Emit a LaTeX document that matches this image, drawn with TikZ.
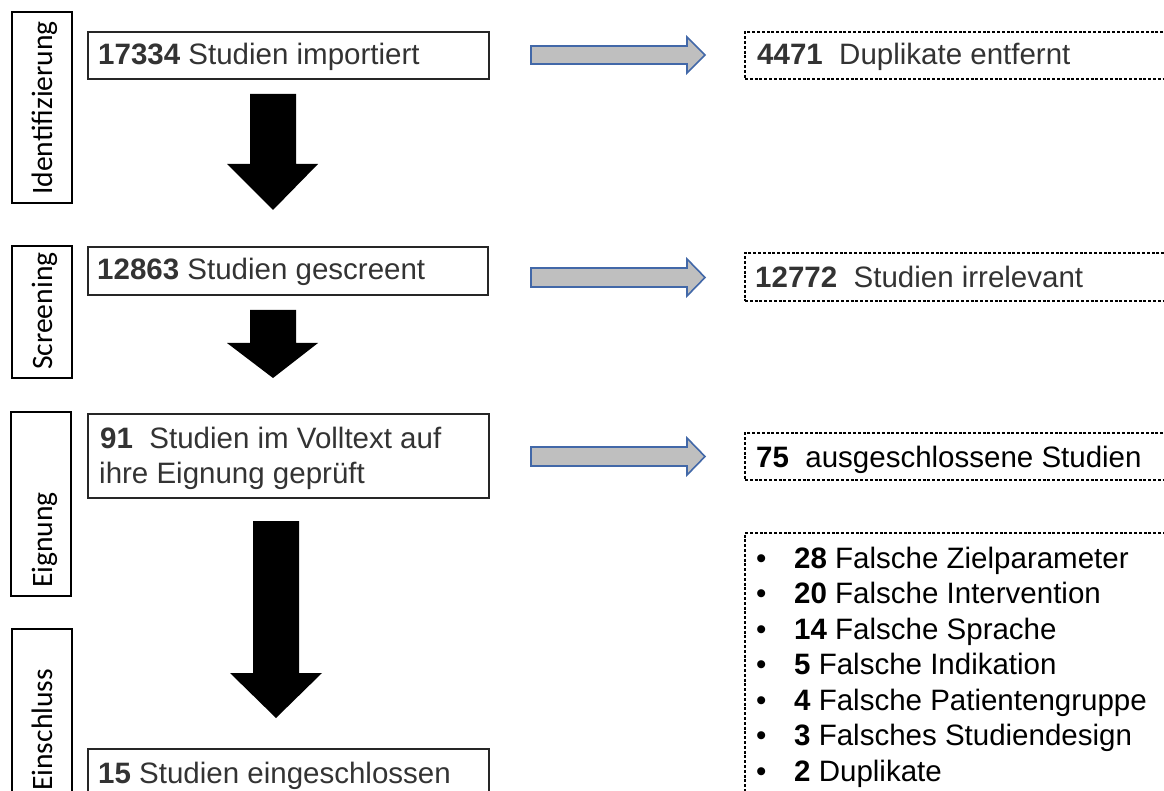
\documentclass[tikz,border=0pt]{standalone}
\usepackage{fontspec}
\setmainfont{Liberation Sans}
\newfontfamily\lblfont{Carlito}
\usetikzlibrary{calc}
\definecolor{txtgray}{HTML}{333333}
\definecolor{arrfill}{HTML}{BFBFBF}
\definecolor{arrline}{HTML}{4268A8}
\begin{document}
\begin{tikzpicture}[x=1pt,y=-1pt,
  mainbox/.style={draw=black!85, line width=1.2pt, anchor=north west, inner sep=0pt, outer sep=0pt},
  lblbox/.style={draw=black, line width=1.4pt, anchor=north west, inner sep=0pt, outer sep=0pt},
  dashbox/.style={draw=black, line width=1.2pt, dash pattern=on 3pt off 1.8pt, anchor=north west, inner sep=0pt, outer sep=0pt},
  txt/.style={anchor=base west, inner sep=0pt, font=\fontsize{29.5}{35.5}\selectfont, text=txtgray},
  blacktxt/.style={txt, text=black},
  lbl/.style={rotate=90, anchor=base west, inner sep=0pt, font=\lblfont\fontsize{29.6}{35}\selectfont},
  blockarrow/.style={fill=black},
  grayarrow/.style={fill=arrfill, draw=arrline, line width=1.6pt, line join=miter}]
\useasboundingbox (0,0) rectangle (1164,791);
\clip (0,0) rectangle (1164,791);

% phase labels
\node[lblbox, minimum width=60pt, minimum height=191pt] (L1) at (12,12) {};
\node[lblbox, minimum width=60pt, minimum height=132pt] (L2) at (12,246) {};
\node[lblbox, minimum width=60pt, minimum height=184pt] (L3) at (11,412) {};
\node[lblbox, minimum width=60pt, minimum height=172pt] (L4) at (12,629) {};
\node[lbl] (l1t) at (52,195) {Identifizierung};
\node[lbl] (l2t) at (52,370) {Screening};
\node[lbl] (l3t) at (52,588) {Eignung};
\node[lbl] (l4t) at (52,791) {Einschluss};

% main boxes
\node[mainbox, minimum width=401pt, minimum height=47pt] (b1) at (88,32) {};
\node[mainbox, minimum width=400pt, minimum height=48pt] (b2) at (88,247) {};
\node[mainbox, minimum width=401pt, minimum height=84pt] (b3) at (88,414) {};
\node[mainbox, minimum width=401pt, minimum height=60pt] (b4) at (88,749) {};
\node[txt] (t1) at (98,65) {\textbf{17334} Studien importiert};
\node[txt] (t2) at (97,280) {\textbf{12863} Studien gescreent};
\node[txt] (t3a) at (100,448) {\textbf{91}\ \ Studien im Volltext auf};
\node[txt] (t3b) at (99,483) {ihre Eignung geprüft};
\node[txt] (t4) at (98,783) {\textbf{15} Studien eingeschlossen};

% black block arrows
\fill[blockarrow] (250,94) -- (296,94) -- (296,164) -- (318,164) -- (273,210) -- (227,164) -- (250,164) -- cycle;
\fill[blockarrow] (250,310) -- (296,310) -- (296,343) -- (318,343) -- (273,378) -- (227,343) -- (250,343) -- cycle;
\fill[blockarrow] (253,521) -- (299,521) -- (299,673) -- (322,673) -- (276,718) -- (230,673) -- (253,673) -- cycle;

% gray arrows
\filldraw[grayarrow] (531,46) -- (687,46) -- (687,37) -- (705,55) -- (687,73) -- (687,64) -- (531,64) -- cycle;
\filldraw[grayarrow] (531,268) -- (687,268) -- (687,259) -- (705,277.5) -- (687,296) -- (687,287) -- (531,287) -- cycle;
\filldraw[grayarrow] (531,447) -- (687,447) -- (687,438) -- (705,456.5) -- (687,475) -- (687,466) -- (531,466) -- cycle;

% dashed boxes
\node[dashbox, minimum width=440pt, minimum height=47pt] (d1) at (745,32) {};
\node[dashbox, minimum width=440pt, minimum height=48pt] (d2) at (745,253) {};
\node[dashbox, minimum width=440pt, minimum height=47pt] (d3) at (745,433) {};
\node[dashbox, minimum width=440pt, minimum height=280pt] (d4) at (745,533) {};
\node[txt] (r1) at (757,65) {\textbf{4471}\ \ Duplikate entfernt};
\node[txt] (r2) at (755,288) {\textbf{12772}\ \ Studien irrelevant};
\node[blacktxt] (r3) at (756,467) {\textbf{75}\ \ ausgeschlossene Studien};

\foreach \i/\n/\t in {0/28/Falsche Zielparameter, 1/20/Falsche Intervention, 2/14/Falsche Sprache, 3/5/Falsche Indikation, 4/4/Falsche Patientengruppe, 5/3/Falsches Studiendesign, 6/2/Duplikate}
  \node[blacktxt] (li\i) at (756,568+35.5*\i) {\makebox[38pt][l]{•}\textbf{\n} \t};
\end{tikzpicture}
\end{document}
